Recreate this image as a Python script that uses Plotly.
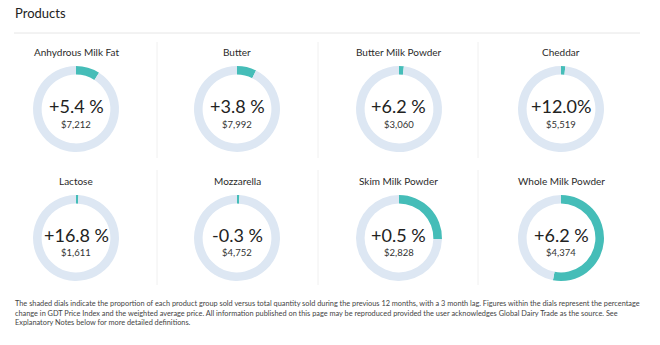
import plotly.graph_objects as go

products = ["Anhydrous Milk Fat", "Butter", "Butter Milk Powder", "Cheddar",
            "Lactose", "Mozzarella", "Skim Milk Powder", "Whole Milk Powder"]
changes = ["+5.4 %", "+3.8 %", "+6.2 %", "+12.0%", "+16.8 %", "-0.3 %", "+0.5 %", "+6.2 %"]
prices = ["$7,212", "$7,992", "$3,060", "$5,519", "$1,611", "$4,752", "$2,828", "$4,374"]
shares = [9.0, 7.3, 1.8, 1.6, 0.9, 0.9, 25.5, 53.0]

W, H = 660, 345
TEAL = "#45bdb8"
LIGHT = "#dde7f3"
TXT = "#333333"

col_cx = [76, 237, 399, 561]
row_cy = [109, 238]
R = 43

fig = go.Figure()
ann = []
for i, p in enumerate(products):
    cx = col_cx[i % 4]
    cy = row_cy[i // 4]
    fig.add_trace(go.Pie(
        values=[shares[i], 100 - shares[i]],
        marker=dict(colors=[TEAL, LIGHT], line=dict(width=0)),
        hole=0.8, sort=False, direction="clockwise", rotation=0,
        textinfo="none", hoverinfo="skip", showlegend=False,
        domain=dict(x=[(cx - R) / W, (cx + R) / W],
                    y=[1 - (cy + R) / H, 1 - (cy - R) / H]),
    ))
    ann.append(dict(x=cx / W, y=1 - (cy - 57) / H, text=p, showarrow=False,
                    xref="paper", yref="paper", xanchor="center", yanchor="middle",
                    font=dict(family="Lato", size=10, color="#2a2a2a")))
    ann.append(dict(x=cx / W, y=1 - (cy - 3) / H, text=changes[i], showarrow=False,
                    xref="paper", yref="paper", xanchor="center", yanchor="middle",
                    font=dict(family="Lato", size=18, color="#222222")))
    ann.append(dict(x=cx / W, y=1 - (cy + 15) / H, text=prices[i], showarrow=False,
                    xref="paper", yref="paper", xanchor="center", yanchor="middle",
                    font=dict(family="Lato", size=9.5, color=TXT)))

ann.append(dict(x=13 / W, y=1 - 13 / H, text="Products", showarrow=False,
                xref="paper", yref="paper", xanchor="left", yanchor="middle",
                font=dict(family="Lato", size=13, color="#222222")))

foot = ("The shaded dials indicate the proportion of each product group sold versus total quantity sold during the previous 12 months, with a 3 month lag. Figures within the dials represent the percentage<br>"
        "change in GDT Price Index and the weighted average price. All information published on this page may be reproduced provided the user acknowledges Global Dairy Trade as the source. See<br>"
        "Explanatory Notes below for more detailed definitions.")
ann.append(dict(x=13 / W, y=1 - 297 / H, text=foot, showarrow=False, align="left",
                xref="paper", yref="paper", xanchor="left", yanchor="top",
                font=dict(family="Lato", size=7.35, color="#444444")))

shapes = [dict(type="line", xref="paper", yref="paper", x0=14 / W, x1=640 / W,
               y0=1 - 33 / H, y1=1 - 33 / H, line=dict(color="#e6e6e6", width=1))]
for x in [157, 318, 478]:
    for (y0, y1) in [(42, 158), (170, 285)]:
        shapes.append(dict(type="line", xref="paper", yref="paper", x0=x / W, x1=x / W,
                           y0=1 - y0 / H, y1=1 - y1 / H, line=dict(color="#f0f0f0", width=1)))

fig.update_layout(width=W, height=H, margin=dict(l=0, r=0, t=0, b=0),
                  paper_bgcolor="white", plot_bgcolor="white",
                  annotations=ann, shapes=shapes)
fig.write_html("out.html")
